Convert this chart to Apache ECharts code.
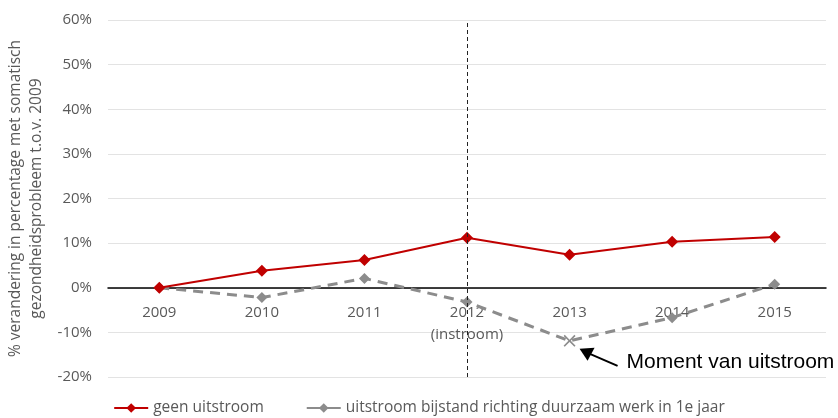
<!DOCTYPE html>
<html>
<head>
<meta charset="utf-8">
<script src="https://cdn.jsdelivr.net/npm/echarts@6/dist/echarts.min.js"></script>
<style>html,body{margin:0;padding:0;background:#fff}#c{width:838px;height:418px}</style>
</head>
<body>
<div id="c"></div>
<script>
const years = ['2009','2010','2011','2012','2013','2014','2015'];
const geenUitstroom = [0, 3.8, 6.2, 11.2, 7.4, 10.3, 11.4];
const uitstroomWerk = [0, -2.2, 2.1, -3.2, -11.9, -6.7, 0.8];
const seriesNames = ['geen uitstroom', 'uitstroom bijstand richting duurzaam werk in 1e jaar'];
const yTicks = {min: -20, max: 60, interval: 10};
const instroomYear = '2012';
const uitstroomYear = '2013';
const annotationText = 'Moment van uitstroom';
const yAxisName = '% verandering in percentage met somatisch\ngezondheidsprobleem t.o.v. 2009';

const FONT = '"Open Sans", sans-serif';
const TXT = '#595959';

const chart = echarts.init(document.getElementById('c'), null, {renderer: 'canvas'});
const grayData = uitstroomWerk.map((v, i) => years[i] === uitstroomYear
  ? {value: v, symbol: 'path://M1,0 L5,4 L9,0 L10,1 L6,5 L10,9 L9,10 L5,6 L1,10 L0,9 L4,5 L0,1 Z', symbolSize: 12, itemStyle: {color: '#8c8c8c'}}
  : v);

const GRID = {left: 108, right: 12, top: 20, bottom: 41};
chart.setOption({
  animation: false,
  textStyle: {fontFamily: FONT},
  grid: Object.assign({containLabel: false, outerBoundsMode: 'none'}, GRID),
  legend: {
    bottom: -3, left: 'center', itemWidth: 34, itemHeight: 12, itemGap: 42,
    textStyle: {fontFamily: FONT, fontSize: 15.5, color: TXT},
    lineStyle: {type: 'solid'},
    data: seriesNames
  },
  xAxis: {
    type: 'category', data: years, boundaryGap: true,
    axisLine: {onZero: false, lineStyle: {color: '#000', width: 1.5}},
    axisTick: {show: false},
    axisLabel: {
      fontFamily: FONT, fontSize: 15, color: TXT, margin: 14, lineHeight: 22,
      formatter: v => v === instroomYear ? v + '\n(instroom)' : v
    },
    z: 3
  },
  yAxis: {
    type: 'value', min: yTicks.min, max: yTicks.max, interval: yTicks.interval,
    name: yAxisName, nameLocation: 'middle', nameGap: 50, nameRotate: 90,
    nameTextStyle: {fontFamily: FONT, fontSize: 15.5, color: TXT, lineHeight: 21},
    axisLine: {show: false}, axisTick: {show: false},
    axisLabel: {fontFamily: FONT, fontSize: 15, color: TXT, margin: 16, formatter: v => v + '%'},
    splitLine: {lineStyle: {color: '#e3e3e3', width: 1}}
  },
  series: [
    {
      name: seriesNames[0], type: 'line', data: geenUitstroom,
      symbol: 'diamond', symbolSize: 12, showAllSymbol: true,
      lineStyle: {color: '#c00000', width: 2},
      itemStyle: {color: '#c00000'},
      z: 4,
      markLine: {
        silent: true, symbol: 'none', label: {show: false},
        lineStyle: {color: '#222', type: [4, 3], width: 1},
        data: [{xAxis: instroomYear}]
      }
    },
    {
      name: seriesNames[1], type: 'line', data: grayData,
      symbol: 'diamond', symbolSize: 11, showAllSymbol: true,
      lineStyle: {color: '#8c8c8c', width: 3, type: [10, 7]},
      itemStyle: {color: '#8c8c8c'},
      z: 3
    }
  ]
});

// put the category axis (line + labels) at the 0% value
const zeroY = chart.convertToPixel({yAxisIndex: 0}, 0);
const bottomY = chart.getHeight() - GRID.bottom;
chart.setOption({xAxis: {offset: -(bottomY - zeroY)}});

// annotation arrow anchored to the data point of the uitstroom year
const p = chart.convertToPixel({seriesIndex: 1}, [uitstroomYear, uitstroomWerk[years.indexOf(uitstroomYear)]]);
const tip = [p[0] + 10, p[1] + 8];
const tail = [p[0] + 48, p[1] + 25];
chart.setOption({
  graphic: [
    {type: 'line', shape: {x1: tail[0], y1: tail[1], x2: tip[0] + 8, y2: tip[1] + 4}, style: {stroke: '#000', lineWidth: 2}},
    {type: 'polygon', shape: {points: [[tip[0], tip[1]], [tip[0] + 15, tip[1] - 1], [tip[0] + 8, tip[1] + 12]]}, style: {fill: '#000'}},
    {type: 'text', x: tail[0] + 9, y: tail[1] - 4, style: {text: annotationText, font: '21px "Liberation Sans", Arial, sans-serif', fill: '#000', verticalAlign: 'middle'}}
  ]
});
</script>
</body>
</html>
